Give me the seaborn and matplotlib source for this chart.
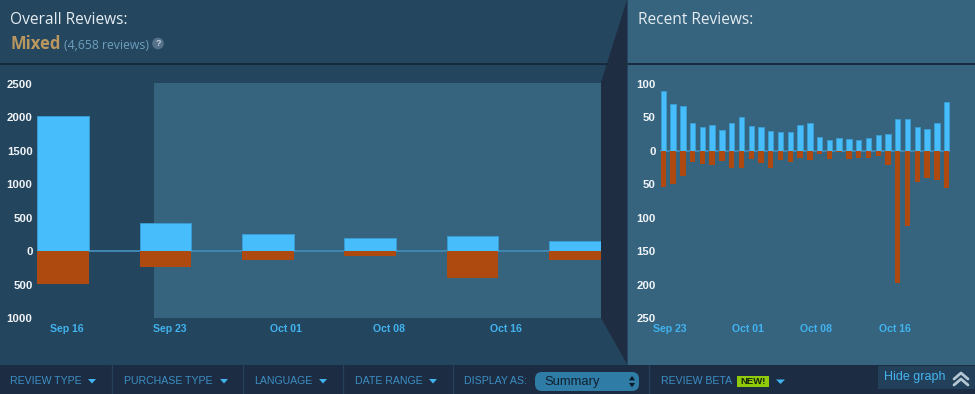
import numpy as np
import pandas as pd
import seaborn as sns
import matplotlib
matplotlib.use("Agg")
import matplotlib.pyplot as plt
from matplotlib.patches import Polygon, Rectangle, FancyBboxPatch, Circle

# ---------- data ----------
overall_days = [0, 7, 14, 21, 28, 35]
overall_up = [2020, 420, 255, 190, 220, 150]
overall_down = [490, 240, 130, 70, 400, 130]
overall_tick_days = [0.27, 7.27, 15.27, 22.27, 30.27]
overall_tick_labels = ["Sep 16", "Sep 23", "Oct 01", "Oct 08", "Oct 16"]
overall_yticks = [2500, 2000, 1500, 1000, 500, 0, -500, -1000]

recent_days = list(range(30))
recent_up = [89, 70, 67, 42, 35, 38, 31, 42, 51, 37, 36, 30, 28, 28, 38,
             41, 21, 16, 19, 18, 16, 19, 23, 25, 48, 47, 35, 33, 42, 73]
recent_down = [54, 50, 37, 17, 20, 21, 15, 25, 26, 12, 18, 25, 13, 17, 11,
               14, 5, 12, 2, 12, 10, 10, 8, 21, 197, 112, 46, 40, 43, 55]
recent_tick_days = [0.68, 8.68, 15.68, 23.68]
recent_tick_labels = ["Sep 23", "Oct 01", "Oct 08", "Oct 16"]
recent_yticks = [100, 50, 0, -50, -100, -150, -200, -250]

toolbar_items = ["REVIEW TYPE", "PURCHASE TYPE", "LANGUAGE", "DATE RANGE"]

# ---------- colours ----------
UP, DOWN = "#47bdfb", "#ae490f"
PANEL, CHART, SELECT = "#24465f", "#24455e", "#36647f"
DARK, BAR = "#1f2d42", "#1c2c43"
LINK, TICK = "#3d8fc4", "#41b4f0"

W, H = 975, 394
sns.set_theme(style="white")
plt.rcParams["font.family"] = ["Liberation Sans", "DejaVu Sans"]
fig = plt.figure(figsize=(W / 100, H / 100), dpi=100, facecolor=PANEL)

# ---------- decoration layer in pixel space ----------
ov = fig.add_axes([0, 0, 1, 1], zorder=0)
ov.set_xlim(0, W)
ov.set_ylim(H, 0)
ov.axis("off")
ov.add_patch(Rectangle((0, 65), 628, 300, fc=CHART, ec="none"))
ov.add_patch(Rectangle((154, 83), 447, 235, fc=SELECT, ec="none"))
ov.add_patch(Polygon([(627, 0), (601, 82), (601, 318), (627, 364)], fc=DARK, ec="none"))
ov.add_patch(Rectangle((628, 0), 347, 365, fc=SELECT, ec="none"))
ov.plot([0, 607], [64, 64], color="#15263a", lw=1.3)
ov.plot([628, 975], [64, 64], color="#15263a", lw=1.3)
ov.add_patch(Rectangle((0, 365), W, 29, fc=BAR, ec="none"))

ov.text(10, 20, "Overall Reviews:", color="#e6edf2", fontsize=11.2, family="Open Sans", weight="medium", va="center")
ov.text(10, 44, "Mixed", color="#b9975f", fontsize=12, family="Open Sans", weight="bold", va="center")
ov.text(64, 45.5, "(4,658 reviews)", color="#6d9fbd", fontsize=8.8, family="Open Sans", va="center")
ov.add_patch(Circle((158, 43.5), 5.8, fc="#56728a", ec="none"))
ov.text(158, 43.5, "?", color="#c5d2dc", fontsize=6.5, weight="bold", ha="center", va="center")
ov.text(638, 20, "Recent Reviews:", color="#e6edf2", fontsize=11.2, family="Open Sans", weight="medium", va="center")

# toolbar
item_x = [10, 124, 254, 355]
arrow_x = [92, 224, 323, 433]
for label, tx, ax_ in zip(toolbar_items, item_x, arrow_x):
    ov.text(tx, 381, label, color=LINK, fontsize=7.6, va="center")
    ov.add_patch(Polygon([(ax_ - 4, 379), (ax_ + 4, 379), (ax_, 383.5)], fc=TICK, ec="none"))
for sx in [112, 243, 343, 453, 649]:
    ov.plot([sx, sx], [365, 394], color="#24405a", lw=0.9)
ov.text(464, 381.5, "DISPLAY AS:", color=LINK, fontsize=7.6, va="center")
ov.add_patch(FancyBboxPatch((535, 372), 104, 19, boxstyle="round,pad=0,rounding_size=7", fc="#2f7ca6", ec="none"))
ov.text(544, 381.5, "Summary", color="#10202f", fontsize=9.4, va="center")
ov.add_patch(Polygon([(629, 380.3), (635, 380.3), (632, 376)], fc="#0c1826", ec="none"))
ov.add_patch(Polygon([(629, 383), (635, 383), (632, 387.3)], fc="#0c1826", ec="none"))
ov.text(661, 381.5, "REVIEW BETA", color=LINK, fontsize=7.6, va="center")
ov.add_patch(Rectangle((737, 376), 32, 11, fc="#8fcb0a", ec="none"))
ov.text(753, 381.5, "NEW!", color="#15250a", fontsize=6.8, weight="bold", ha="center", va="center")
ov.add_patch(Polygon([(776, 379.5), (785, 379.5), (780.5, 384), ], fc=TICK, ec="none"))
ov.add_patch(Rectangle((878, 366), 97, 23, fc="#22405a", ec="none"))
ov.text(884, 377, "Hide graph", color="#46b4f0", fontsize=9, va="center")
for dy in (0, 6):
    ov.plot([954, 961, 968], [379 + dy, 373 + dy, 379 + dy], color="#b5c6d2", lw=2)


def chart(x0, x1, top, bottom, days, up, down, bar_w_days, step, xlim, yticks, ylim,
          tick_days, tick_labels, ypad):
    ax = fig.add_axes([x0 / W, 1 - bottom / H, (x1 - x0) / W, (bottom - top) / H], zorder=2)
    ax.patch.set_alpha(0)
    up_df = pd.DataFrame({"day": days, "count": up})
    down_df = pd.DataFrame({"day": days, "count": -np.asarray(down)})
    ax.axhline(0, color="#3f86b2", lw=1.4, zorder=0.5)
    kw = dict(x="day", y="count", native_scale=True, width=bar_w_days / step, ax=ax,
              saturation=1, zorder=2)
    sns.barplot(data=up_df, color=UP, linewidth=0.6, edgecolor="#3a9ed6", **kw)
    sns.barplot(data=down_df, color=DOWN, linewidth=0, **kw)
    ax.set_xlim(*xlim)
    ax.set_ylim(*ylim)
    ax.set_xlabel("")
    ax.set_ylabel("")
    ax.set_yticks(yticks)
    ax.set_yticklabels([str(abs(v)) for v in yticks], color="#f0f4f7", fontsize=8.2, weight="bold")
    ax.set_xticks(tick_days)
    ax.set_xticklabels(tick_labels, color=TICK, fontsize=7.6, weight="bold")
    ax.tick_params(axis="y", length=0, pad=ypad)
    ax.tick_params(axis="x", length=0, pad=4.5)
    sns.despine(ax=ax, left=True, bottom=True)
    return ax


px_day_l = 102.4 / 7
chart(37, 601, 84, 318, overall_days, overall_up, overall_down, 3.52, 7,
      ((37 - 63.0) / px_day_l, (601 - 63.0) / px_day_l),
      overall_yticks, (-1000, 2500), overall_tick_days, overall_tick_labels, 3.2)

px_day_r = 9.77
chart(660, 950, 84, 318, recent_days, recent_up, recent_down, 0.55, 1,
      ((660 - 663.3) / px_day_r, (950 - 663.3) / px_day_r),
      recent_yticks, (-250, 100), recent_tick_days, recent_tick_labels, 3.2)

fig.savefig("out.png", dpi=100, facecolor=fig.get_facecolor())
